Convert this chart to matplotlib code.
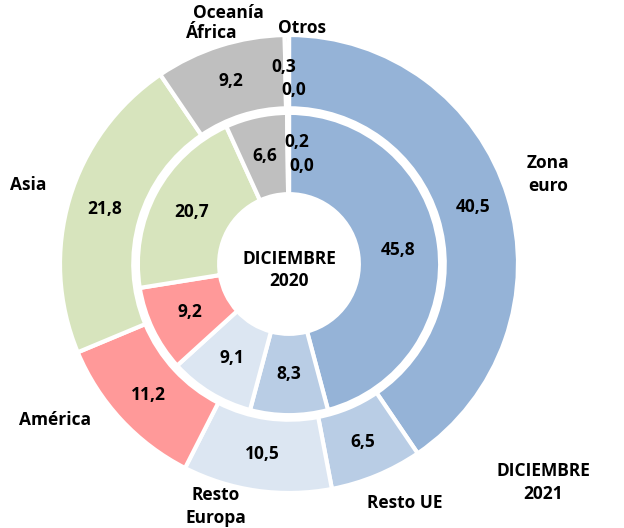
import matplotlib
matplotlib.use("Agg")
import matplotlib.pyplot as plt
import numpy as np

# shares by region, % (outer ring = Dec 2021, inner ring = Dec 2020)
regions = ['Zona euro', 'Resto UE', 'Resto Europa', 'América', 'Asia', 'África', 'Oceanía', 'Otros']
vals_2021 = [40.5, 6.5, 10.5, 11.2, 21.8, 9.2, 0.3, 0.0]
vals_2020 = [45.8, 8.3, 9.1, 9.2, 20.7, 6.6, 0.2, 0.0]
colors = ['#95B3D7', '#B9CDE5', '#DCE6F2', '#FF9999', '#D7E4BD', '#BFBFBF', '#BFBFBF', '#BFBFBF']

plt.rcParams['font.family'] = ['Open Sans', 'DejaVu Sans']
FS = 12.5

fig = plt.figure(figsize=(6.24, 5.28), dpi=100)
ax = fig.add_axes([0, 0, 1, 1])
scale = 229.0  # px per unit radius
cx, cy = 289.0, 264.0

R_out, W_out = 1.0, 0.32
R_in, W_in = 0.66, 0.355
ep = dict(edgecolor='white', linewidth=3)

ax.pie(vals_2021, radius=R_out, colors=colors, startangle=90, counterclock=False,
       wedgeprops=dict(width=W_out, **ep), center=(0, 0), frame=True)
ax.pie(vals_2020, radius=R_in, colors=colors, startangle=90, counterclock=False,
       wedgeprops=dict(width=W_in, **ep), center=(0, 0), frame=True)
ax.set_xlim(-cx / scale, (624 - cx) / scale)
ax.set_ylim(-(528 - cy) / scale, cy / scale)
ax.set_aspect('auto')
ax.axis('off')


def fmt(v):
    return f'{v:.1f}'.replace('.', ',')


def label_ring(vals, r_mid):
    total = sum(vals)
    start = 90.0
    for v in vals[:6]:
        ang = np.deg2rad(start - v / total * 180.0)
        ax.text(r_mid * np.cos(ang), r_mid * np.sin(ang), fmt(v), ha='center', va='center',
                fontsize=FS, fontweight='bold')
        start -= v / total * 360.0


label_ring(vals_2021, R_out - W_out / 2)
label_ring(vals_2020, R_in - W_in / 2)

# the tiny slices near the top
ax.text(-0.024, 0.86, fmt(vals_2021[6]), ha='center', va='center', fontsize=FS, fontweight='bold')
ax.text(0.02, 0.76, fmt(vals_2021[7]), ha='center', va='center', fontsize=FS, fontweight='bold')
ax.text(0.035, 0.533, fmt(vals_2020[6]), ha='center', va='center', fontsize=FS, fontweight='bold')
ax.text(0.057, 0.43, fmt(vals_2020[7]), ha='center', va='center', fontsize=FS, fontweight='bold')

# category names
names = [('Zona\neuro', 1.13, 0.39), ('Resto UE', 0.507, -1.044), ('Resto\nEuropa', -0.32, -1.06),
         ('América', -1.02, -0.68), ('Asia', -1.14, 0.345), ('África', -0.336, 1.01),
         ('Oceanía', -0.266, 1.096), ('Otros', 0.057, 1.03)]
for txt, x, y in names:
    ax.text(x, y, txt, ha='center', va='center', fontsize=FS, fontweight='bold', linespacing=1.35)

ax.text(1.11, -0.956, 'DICIEMBRE\n2021', ha='center', va='center', fontsize=FS,
        fontweight='bold', linespacing=1.35)
ax.text(0, -0.026, 'DICIEMBRE\n2020', ha='center', va='center', fontsize=FS,
        fontweight='bold', linespacing=1.35)

fig.savefig('out.png', dpi=100)
